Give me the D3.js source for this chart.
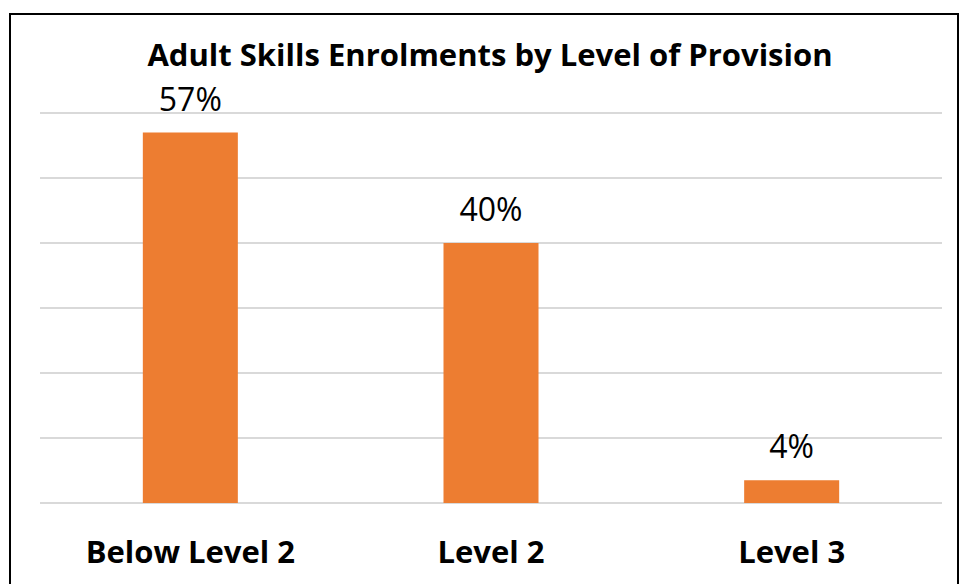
<!DOCTYPE html>
<html>
<head>
<meta charset="utf-8">
<script src="https://cdn.jsdelivr.net/npm/d3@7"></script>
<style>
  body { margin: 0; background: #fff; }
  text { font-family: "Open Sans", Lato, sans-serif; }
</style>
</head>
<body>
<div id="chart"></div>
<script>
const categories = ["Below Level 2", "Level 2", "Level 3"];
const values = [57, 40, 3.5];
const gridTicks = [0, 10, 20, 30, 40, 50, 60];

const width = 959, height = 584;
const margin = { left: 40, right: 17, top: 113, bottom: 81 };

const svg = d3.select("#chart").append("svg")
  .attr("width", width)
  .attr("height", height);

svg.append("rect")
  .attr("width", width)
  .attr("height", height)
  .attr("fill", "#fff");

// outer frame (bottom and right edges fall outside the picture)
svg.append("rect")
  .attr("x", 10)
  .attr("y", 14)
  .attr("width", 948)
  .attr("height", 600)
  .attr("fill", "none")
  .attr("stroke", "#000")
  .attr("stroke-width", 2);

const x = d3.scaleBand()
  .domain(categories)
  .range([margin.left, width - margin.right])
  .paddingInner(0.684)
  .paddingOuter(0.342);

const y = d3.scaleLinear()
  .domain([0, 60])
  .range([height - margin.bottom, margin.top]);

// gridlines
svg.append("g")
  .selectAll("line")
  .data(gridTicks)
  .join("line")
  .attr("x1", margin.left)
  .attr("x2", width - margin.right)
  .attr("y1", d => y(d))
  .attr("y2", d => y(d))
  .attr("stroke", "#d9d9d9")
  .attr("stroke-width", 2);

svg.append("g")
  .selectAll("rect")
  .data(values)
  .join("rect")
  .attr("x", (d, i) => x(categories[i]))
  .attr("width", x.bandwidth())
  .attr("y", d => y(d))
  .attr("height", d => y(0) - y(d))
  .attr("fill", "#ed7d31");

let fmt = d3.format(".0f");

svg.append("g")
  .selectAll("text")
  .data(values)
  .join("text")
  .attr("x", (d, i) => x(categories[i]) + x.bandwidth() / 2)
  .attr("y", d => y(d) - 22)
  .attr("text-anchor", "middle")
  .attr("font-size", 32)
  .attr("fill", "#000")
  .text(d => fmt(d) + "%");

// category labels
svg.append("g")
  .selectAll("text")
  .data(categories)
  .join("text")
  .attr("x", d => x(d) + x.bandwidth() / 2)
  .attr("y", 563)
  .attr("text-anchor", "middle")
  .attr("font-size", 31)
  .attr("font-weight", "bold")
  .attr("fill", "#000")
  .text(d => d);

svg.append("text")
  .attr("x", 490)
  .attr("y", 66)
  .attr("text-anchor", "middle")
  .attr("font-size", 31)
  .attr("font-weight", "bold")
  .attr("fill", "#000")
  .text("Adult Skills Enrolments by Level of Provision");
</script>
</body>
</html>
